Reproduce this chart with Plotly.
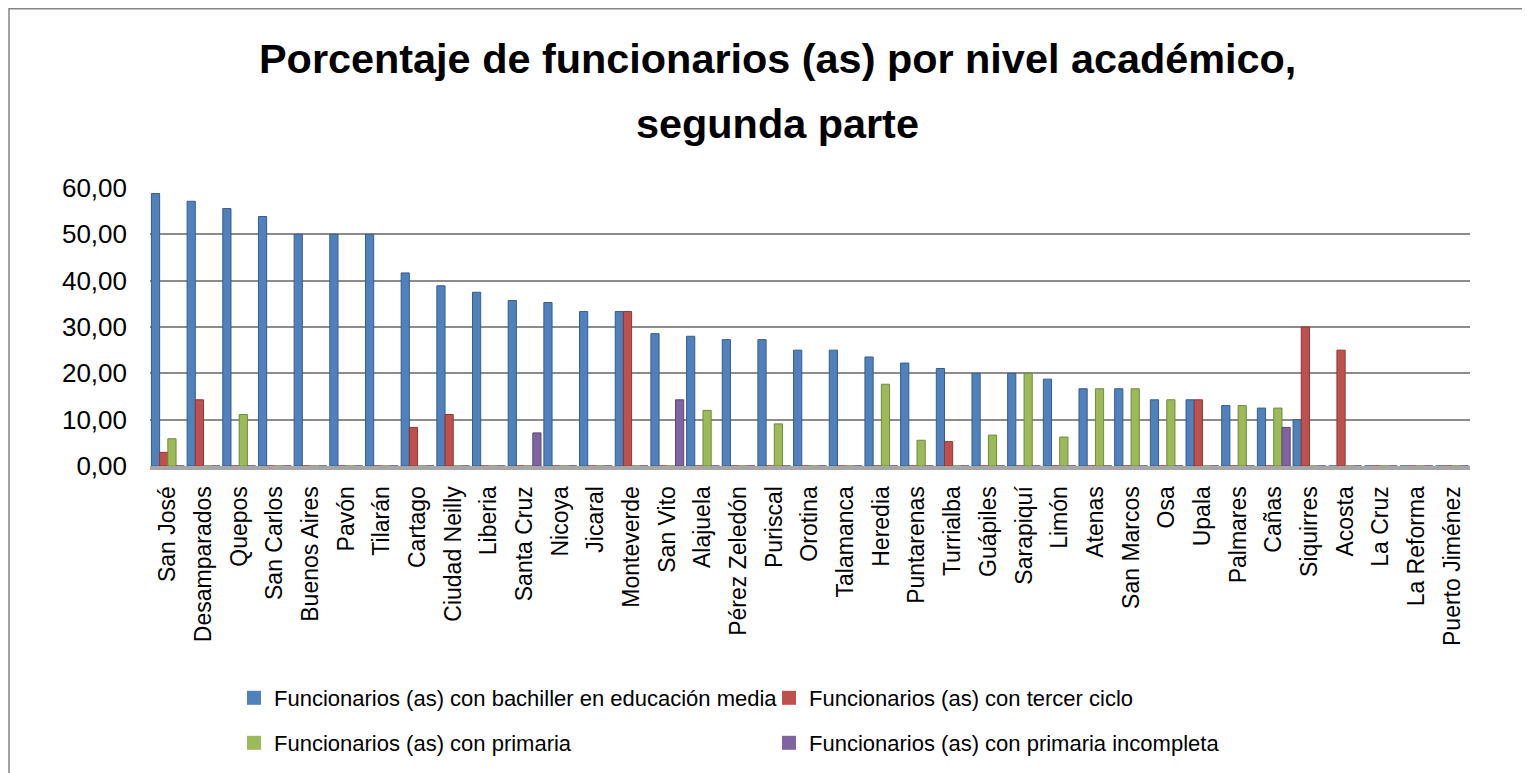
import plotly.graph_objects as go

# categorías (orden del gráfico original)
cantones = [
    "San José", "Desamparados", "Quepos", "San Carlos", "Buenos Aires", "Pavón",
    "Tilarán", "Cartago", "Ciudad Neilly", "Liberia", "Santa Cruz", "Nicoya",
    "Jicaral", "Monteverde", "San Vito", "Alajuela", "Pérez Zeledón", "Puriscal",
    "Orotina", "Talamanca", "Heredia", "Puntarenas", "Turrialba", "Guápiles",
    "Sarapiquí", "Limón", "Atenas", "San Marcos", "Osa", "Upala", "Palmares",
    "Cañas", "Siquirres", "Acosta", "La Cruz", "La Reforma", "Puerto Jiménez",
]

bachiller = [58.82, 57.14, 55.56, 53.85, 50.00, 50.00, 50.00, 41.67, 38.89, 37.50,
             35.71, 35.29, 33.33, 33.33, 28.57, 28.00, 27.27, 27.27, 25.00, 25.00,
             23.53, 22.22, 21.05, 20.00, 20.00, 18.75, 16.67, 16.67, 14.29, 14.29,
             13.04, 12.50, 10.00, 0, 0, 0, 0]
tercer_ciclo = [2.94, 14.29, 0, 0, 0, 0, 0, 8.33, 11.11, 0,
                0, 0, 0, 33.33, 0, 0, 0, 0, 0, 0,
                0, 0, 5.26, 0, 0, 0, 0, 0, 0, 14.29,
                0, 0, 30.00, 25.00, 0, 0, 0]
primaria = [5.88, 0, 11.11, 0, 0, 0, 0, 0, 0, 0,
            0, 0, 0, 0, 0, 12.00, 0, 9.09, 0, 0,
            17.65, 5.56, 0, 6.67, 20.00, 6.25, 16.67, 16.67, 14.29, 0,
            13.04, 12.50, 0, 0, 0, 0, 0]
primaria_inc = [0, 0, 0, 0, 0, 0, 0, 0, 0, 0,
                7.14, 0, 0, 0, 14.29, 0, 0, 0, 0, 0,
                0, 0, 0, 0, 0, 0, 0, 0, 0, 0,
                0, 8.33, 0, 0, 0, 0, 0]

series = [
    ("Funcionarios (as) con bachiller en educación media", bachiller, "#4F81BD", "#385D8A", "legend"),
    ("Funcionarios (as) con tercer ciclo", tercer_ciclo, "#C0504D", "#8C3836", "legend2"),
    ("Funcionarios (as) con primaria", primaria, "#9BBB59", "#71893F", "legend3"),
    ("Funcionarios (as) con primaria incompleta", primaria_inc, "#8064A2", "#5C4776", "legend4"),
]

FONT = "Liberation Sans, Arial, sans-serif"
W, H = 1530, 773
# plot area in figure px (page adds an 8px body margin)
PX0, PX1, PY0, PY1 = 142, 1462, 180, 458
PW, PH = PX1 - PX0, PY1 - PY0


def px_x(v):
    return (v - PX0) / PW


def px_y(v):
    return (PY1 - v) / PH


fig = go.Figure()
for name, vals, col, edge, lg in series:
    fig.add_trace(go.Bar(
        x=cantones, y=vals, name=name, showlegend=False,
        marker=dict(color=col, line=dict(color=edge, width=1)),
    ))
    # legend entry with a square swatch
    fig.add_trace(go.Scatter(
        x=[None], y=[None], mode="markers", name=name, legend=lg,
        marker=dict(symbol="square", size=14, color=col),
    ))

leg_pos = {"legend": (226, 690), "legend2": (761, 690), "legend3": (226, 735), "legend4": (761, 735)}
legends = {}
for key, (lx, ly) in leg_pos.items():
    legends[key] = dict(
        xref="container", yref="container", x=lx / W, y=1 - ly / H,
        xanchor="left", yanchor="middle", orientation="h",
        font=dict(family=FONT, size=22, color="#000000"), bgcolor="rgba(0,0,0,0)",
    )

fig.update_layout(
    width=W, height=H,
    margin=dict(l=PX0, r=W - PX1, t=PY0, b=H - PY1),
    paper_bgcolor="white", plot_bgcolor="white",
    barmode="group", bargap=0.08, bargroupgap=0,
    separators=", ",
    font=dict(family=FONT, color="#000000"),
    showlegend=True,
    xaxis=dict(
        tickangle=-90, tickfont=dict(family=FONT, size=23, color="#000000"),
        showline=True, linecolor="#A6A6A6", linewidth=4,
        ticks="", ticklabelstandoff=7, showgrid=False,
    ),
    yaxis=dict(
        range=[0, 60], dtick=10, tickformat=".2f",
        tickfont=dict(family=FONT, size=26, color="#000000"),
        showgrid=True, gridcolor="#8C8C8C", gridwidth=2,
        zeroline=False, showline=False, ticks="", ticklabelstandoff=22,
    ),
    annotations=[
        dict(text="<b>Porcentaje de funcionarios (as) por nivel académico,</b>",
             xref="paper", yref="paper", x=px_x(769), y=px_y(51),
             xanchor="center", yanchor="middle", showarrow=False,
             font=dict(family=FONT, size=41.4, color="#000000")),
        dict(text="<b>segunda parte</b>",
             xref="paper", yref="paper", x=px_x(769), y=px_y(116),
             xanchor="center", yanchor="middle", showarrow=False,
             font=dict(family=FONT, size=41.4, color="#000000")),
    ],
    shapes=[dict(
        type="rect", xref="paper", yref="paper",
        x0=px_x(1), x1=px_x(1540), y0=px_y(800), y1=px_y(0.75),
        line=dict(color="#868686", width=1.5), fillcolor="rgba(0,0,0,0)", layer="below",
    )],
    **legends,
)

fig.write_html("out.html")
